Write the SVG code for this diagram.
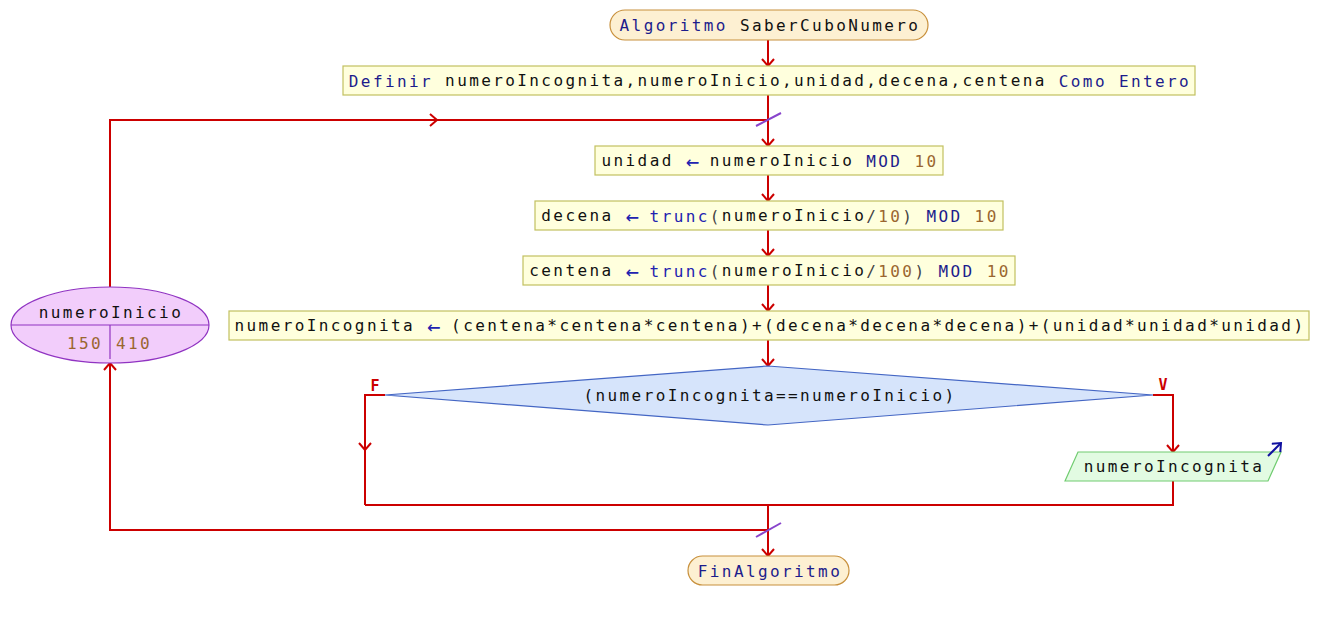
<svg xmlns="http://www.w3.org/2000/svg" width="1319" height="620" viewBox="0 0 1319 620">
<style>
.t{font-family:"DejaVu Sans Mono","Liberation Mono",monospace;font-size:16px;letter-spacing:2.4px;fill:#111;text-anchor:middle;dominant-baseline:central}
.k{fill:#1c1c8c}
.f{fill:#2222b0}
.a{fill:#2222b0;font-size:22px;letter-spacing:-1.24px}
.n{fill:#9a6630}
.g{fill:#444}
.term{fill:#fdf0d2;stroke:#c8903c;stroke-width:1.2}
.proc{fill:#ffffdd;stroke:#c2c060;stroke-width:1.2}
.dec{fill:#d6e4fb;stroke:#4466c4;stroke-width:1.2}
.out{fill:#e2fbe2;stroke:#70cc70;stroke-width:1.2}
.var{fill:#f2cdfb;stroke:#9033c2;stroke-width:1.2}
.c{fill:none;stroke:#cc0000;stroke-width:2}
.ca{fill:none;stroke:#cc0000;stroke-width:2;marker-end:url(#ah)}
.sl{stroke:#8844cc;stroke-width:2}
.lbl{font-family:"DejaVu Sans Mono","Liberation Mono",monospace;font-size:15px;font-weight:bold;fill:#cc0000;text-anchor:middle}
</style>
<defs>
<marker id="ah" markerUnits="userSpaceOnUse" markerWidth="14" markerHeight="14" viewBox="0 0 14 14" refX="10" refY="7" orient="auto">
<path d="M3,1 L10,7 L3,13" fill="none" stroke="#cc0000" stroke-width="2"/>
</marker>
<marker id="bh" markerUnits="userSpaceOnUse" markerWidth="14" markerHeight="14" viewBox="0 0 14 14" refX="10" refY="7" orient="auto">
<path d="M3,1 L10,7 L3,13" fill="none" stroke="#1010a0" stroke-width="2"/>
</marker>
</defs>
<g id="connectors">
<path class="ca" d="M768,40 V66"/>
<path class="ca" d="M768,95 V146"/>
<path class="ca" d="M110,288 V120 H437"/>
<path class="c" d="M437,120 H768"/>
<path class="ca" d="M768,175 V201"/>
<path class="ca" d="M768,230 V256"/>
<path class="ca" d="M768,285 V311"/>
<path class="ca" d="M768,340 V366"/>
<path class="ca" d="M385,395 H365 V450"/>
<path class="c" d="M365,450 V505"/>
<path class="ca" d="M1153,395 H1173 V452"/>
<path class="c" d="M1173,481 V505 H365"/>
<path class="ca" d="M768,505 V556"/>
<path class="ca" d="M768,530 H110 V363"/>
<line class="sl" x1="756" y1="126" x2="781" y2="113"/>
<line class="sl" x1="756" y1="537" x2="781" y2="523"/>
<text class="lbl" x="375" y="391">F</text>
<text class="lbl" x="1163" y="390">V</text>
</g>
<g id="start">
<rect class="term" x="610" y="10" width="318" height="30" rx="15"/>
<text class="t" x="770" y="25"><tspan class="k">Algoritmo</tspan> SaberCuboNumero</text>
</g>
<g id="definir">
<rect class="proc" x="343" y="66" width="852" height="29"/>
<text class="t" x="770" y="80.5"><tspan class="k">Definir</tspan> numeroIncognita,numeroInicio,unidad,decena,centena <tspan class="k">Como Entero</tspan></text>
</g>
<g id="unidad">
<rect class="proc" x="595" y="146" width="348" height="29"/>
<text class="t" x="770" y="160.5">unidad <tspan class="a">←</tspan> numeroInicio <tspan class="k">MOD</tspan> <tspan class="n">10</tspan></text>
</g>
<g id="decena">
<rect class="proc" x="535" y="201" width="468" height="29"/>
<text class="t" x="770" y="215.5">decena <tspan class="a">←</tspan> <tspan class="f">trunc</tspan><tspan class="g">(</tspan>numeroInicio<tspan class="g">/</tspan><tspan class="n">10</tspan><tspan class="g">)</tspan> <tspan class="k">MOD</tspan> <tspan class="n">10</tspan></text>
</g>
<g id="centena">
<rect class="proc" x="523" y="256" width="492" height="29"/>
<text class="t" x="770" y="270.5">centena <tspan class="a">←</tspan> <tspan class="f">trunc</tspan><tspan class="g">(</tspan>numeroInicio<tspan class="g">/</tspan><tspan class="n">100</tspan><tspan class="g">)</tspan> <tspan class="k">MOD</tspan> <tspan class="n">10</tspan></text>
</g>
<g id="incognita">
<rect class="proc" x="229" y="311" width="1080" height="29"/>
<text class="t" x="770" y="325.5">numeroIncognita <tspan class="a">←</tspan> (centena*centena*centena)+(decena*decena*decena)+(unidad*unidad*unidad)</text>
</g>
<g id="decision">
<polygon class="dec" points="385,395 768,366 1153,395 768,425"/>
<text class="t" x="770" y="395">(numeroIncognita==numeroInicio)</text>
</g>
<g id="salida">
<polygon class="out" points="1065,481 1078,452 1281,452 1268,481"/>
<line x1="1268" y1="456" x2="1281" y2="443" stroke="#1010a0" stroke-width="2" marker-end="url(#bh)"/>
<text class="t" x="1174" y="466">numeroIncognita</text>
</g>
<g id="fin">
<rect class="term" x="688" y="556" width="161" height="29" rx="14.5"/>
<text class="t" x="770" y="570.5"><tspan class="k">FinAlgoritmo</tspan></text>
</g>
<g id="variable">
<ellipse class="var" cx="110" cy="325" rx="99" ry="38"/>
<line x1="11" y1="325" x2="209" y2="325" stroke="#9033c2" stroke-width="1.2"/>
<line x1="110" y1="325" x2="110" y2="359" stroke="#9033c2" stroke-width="1.2"/>
<text class="t" x="111" y="312">numeroInicio</text>
<text class="t n" x="103" y="343" style="text-anchor:end">150</text>
<text class="t n" x="116" y="343" style="text-anchor:start">410</text>
</g>
</svg>
